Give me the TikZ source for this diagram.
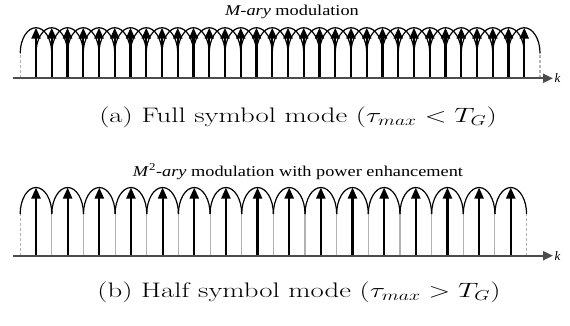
\documentclass[tikz,border=0pt]{standalone}
\usepackage{fontspec}
\usepackage{graphicx}
\usetikzlibrary{arrows.meta}
\newfontfamily\titlefont{Liberation Serif}
\newcommand{\widetext}[1]{\scalebox{1.22}[1]{#1}}
\newcommand{\widecap}[1]{\scalebox{1.37}[1]{#1}}
\newcommand{\titlesize}{\fontsize{15}{18}\selectfont}
\newcommand{\capsize}{\fontsize{21}{25}\selectfont}
\tikzset{
  impulse/.style={line width=2.2pt, -{Triangle[length=11pt,width=9pt]}},
  hump/.style={line width=1.2pt},
  guide/.style={gray!60, line width=1.1pt},
  guideend/.style={gray!60, line width=1.1pt, densely dashed},
  kaxis/.style={black!70, line width=2pt, -{Triangle[length=10pt,width=9pt]}},
}

\begin{document}
\begin{tikzpicture}[x=1pt,y=1pt]
\useasboundingbox (0,0) rectangle (570,325);
%top: full symbol mode
\coordinate (ta0) at (13,246.7);
\coordinate (ta1) at (553,246.7);
\draw[guideend] (20.25,246.7) -- (20.25,272);
\draw[guideend] (540,246.7) -- (540,272);
\foreach \i in {0,...,31}{
  \pgfmathsetmacro{\xa}{36+15.75*\i}
  \draw[hump] (\xa-15.75,272) arc[start angle=180,end angle=0,x radius=15.75pt,y radius=25.3pt];
}
\foreach \i in {0,...,31}{
  \pgfmathsetmacro{\xa}{36+15.75*\i}
  \draw[impulse] (\xa,246.7) -- (\xa,297.3);
}
\draw[kaxis] (ta0) -- (ta1);
\node[anchor=west,inner sep=1.5pt] (ka) at (ta1) {\titlefont\fontsize{13}{15}\selectfont\itshape k};
\node[anchor=base] (titlea) at (292,309) {\titlefont\titlesize\widetext{\textit{M-ary} modulation}};
\node[anchor=base] (capa) at (298,203) {\capsize\widecap{(a) Full symbol mode ($\tau_{max} < T_G$)}};

%bottom: half symbol mode
\coordinate (tb0) at (13,69.3);
\coordinate (tb1) at (553,69.3);
\draw[guideend] (20.175,69.3) -- (20.175,111);
\draw[guideend] (526.6,69.3) -- (526.6,111);
\foreach \j in {1,...,15}{
  \pgfmathsetmacro{\xg}{36+31.65*\j-15.825}
  \draw[guide] (\xg,69.3) -- (\xg,111);
}
\foreach \j in {0,...,15}{
  \pgfmathsetmacro{\xb}{36+31.65*\j}
  \draw[hump] (\xb-15.825,111) arc[start angle=180,end angle=0,x radius=15.825pt,y radius=26.5pt];
  \draw[impulse] (\xb,69.3) -- (\xb,137.5);
}
\draw[kaxis] (tb0) -- (tb1);
\node[anchor=west,inner sep=1.5pt] (kb) at (tb1) {\titlefont\fontsize{13}{15}\selectfont\itshape k};
\node[anchor=base] (titleb) at (298,149) {\titlefont\titlesize\widetext{\textit{M}\textsuperscript{2}\textit{-ary} modulation with power enhancement}};
\node[anchor=base] (capb) at (299,28) {\capsize\widecap{(b) Half symbol mode ($\tau_{max} > T_G$)}};
\end{tikzpicture}
\end{document}
